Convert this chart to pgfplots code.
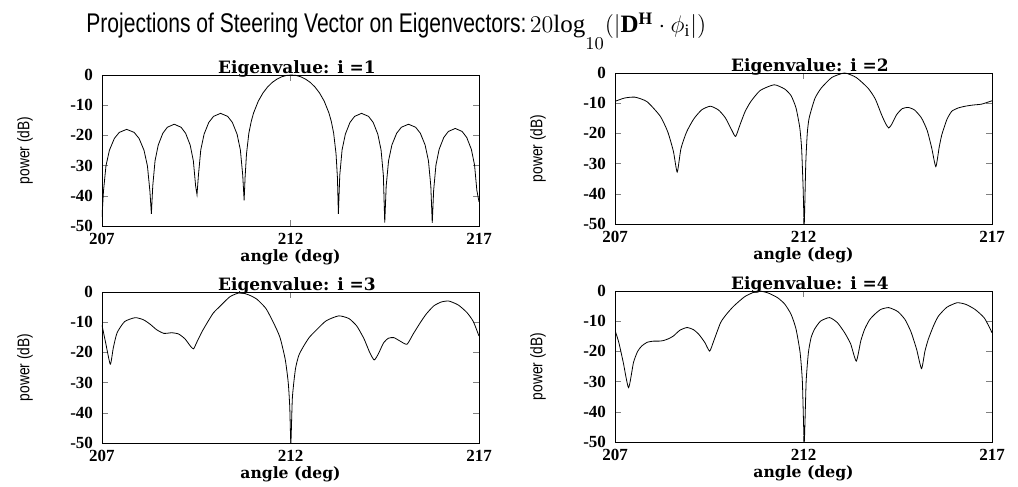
\documentclass[border=0pt]{standalone}
\usepackage{fontspec}
\setmainfont{Liberation Serif}
\newfontfamily\wideserif{DejaVu Serif}
\newfontfamily\sansfont{Liberation Sans}
\usepackage{graphicx}
\usepackage{pgfplots}
\pgfplotsset{compat=1.18}
\usepackage{pgfplotstable}

% eigenvector 1
\pgfplotstableread{
ang db
207.000 -47
207.039 -38.5
207.105 -30.1
207.197 -24.9
207.328 -21.0
207.459 -19.0
207.655 -18.0
207.852 -19.0
207.983 -21.0
208.114 -24.9
208.205 -30.1
208.271 -38.5
208.310 -46.0
208.346 -36.8
208.407 -28.4
208.492 -23.2
208.613 -19.3
208.734 -17.3
208.915 -16.3
209.097 -17.3
209.218 -19.3
209.339 -23.2
209.423 -28.4
209.484 -36.8
209.520 -39.6
209.558 -33.2
209.620 -24.8
209.708 -19.6
209.833 -15.7
209.958 -13.7
210.145 -12.7
210.333 -13.7
210.458 -15.7
210.583 -19.6
210.670 -24.8
210.733 -33.2
210.770 -41.5
210.795 -34.0
210.833 -26.1
210.895 -19.3
210.958 -15.4
211.020 -12.6
211.145 -8.68
211.270 -5.94
211.395 -3.92
211.520 -2.42
211.645 -1.33
211.770 -0.58
211.895 -0.14
212.020 0
212.145 -0.14
212.270 -0.58
212.395 -1.33
212.520 -2.42
212.645 -3.92
212.770 -5.94
212.895 -8.68
213.020 -12.6
213.083 -15.4
213.145 -19.3
213.208 -26.1
213.245 -34.0
213.270 -46.0
213.307 -33.2
213.368 -24.8
213.455 -19.6
213.578 -15.7
213.701 -13.7
213.885 -12.7
214.070 -13.7
214.193 -15.7
214.316 -19.6
214.402 -24.8
214.463 -33.2
214.500 -48.9
214.538 -36.8
214.601 -28.4
214.689 -23.2
214.815 -19.3
214.941 -17.3
215.130 -16.3
215.319 -17.3
215.445 -19.3
215.571 -23.2
215.659 -28.4
215.722 -36.8
215.760 -49.0
215.797 -38.2
215.858 -29.8
215.943 -24.6
216.065 -20.7
216.187 -18.7
216.370 -17.7
216.553 -18.7
216.675 -20.7
216.797 -24.6
216.882 -29.8
216.943 -38.2
217.000 -42
}\eigA

% eigenvector 2
\pgfplotstableread{
ang db
207.00 -9.4
207.25 -8.3
207.53 -8.0
207.85 -9.5
208.20 -14.3
208.40 -19.5
208.55 -26
208.65 -32.8
208.75 -25
208.90 -19.5
209.09 -15.2
209.30 -12.2
209.53 -11.0
209.75 -12.3
209.93 -14.9
210.10 -19
210.20 -21
210.32 -17
210.45 -12.8
210.60 -9.5
210.85 -5.8
211.22 -3.9
211.50 -5.3
211.67 -7.5
211.80 -11.5
211.90 -18
211.95 -25
211.99 -38
212.02 -50
212.06 -30
212.10 -20
212.15 -14.9
212.30 -8.5
212.47 -5.0
212.75 -1.5
213.09 0
213.40 -1.5
213.71 -5.0
213.90 -8.5
214.07 -13.8
214.18 -16.8
214.26 -18.2
214.34 -17.0
214.47 -13.8
214.62 -11.8
214.78 -11.4
214.95 -12.3
215.13 -14.9
215.28 -19
215.40 -24.8
215.51 -31
215.60 -24.5
215.67 -20.4
215.80 -15.5
215.93 -12.7
216.10 -11.6
216.29 -11.0
216.50 -10.6
216.73 -10.3
217.00 -9.2
}\eigB

% eigenvector 3
\pgfplotstableread{
ang db
207.00 -11
207.10 -17
207.22 -23.9
207.30 -18.5
207.40 -13.5
207.60 -9.8
207.88 -8.5
208.10 -9.2
208.28 -10.7
208.45 -12.5
208.64 -13.7
208.85 -13.5
209.03 -13.9
209.20 -15.5
209.35 -18.0
209.43 -18.8
209.52 -16.5
209.65 -13.2
209.79 -10.2
209.95 -7.0
210.14 -4.6
210.40 -1.5
210.67 -0.2
210.90 -1.0
211.11 -2.4
211.35 -5.5
211.55 -10.2
211.72 -15.0
211.86 -22.3
211.94 -30
211.98 -38
212.01 -50
212.05 -35
212.13 -25.6
212.22 -21
212.35 -17.9
212.50 -15.0
212.70 -12.4
212.95 -9.5
213.28 -7.9
213.55 -8.8
213.76 -11.3
213.95 -15.5
214.10 -20.0
214.22 -22.5
214.33 -20.5
214.47 -16.8
214.60 -15.3
214.74 -15.1
214.90 -16.2
215.09 -17.3
215.25 -14.0
215.44 -10.2
215.60 -7.3
215.80 -4.6
216.00 -3.3
216.20 -3.0
216.45 -4.3
216.68 -6.8
216.85 -9.8
217.00 -14.6
}\eigC

% eigenvector 4
\pgfplotstableread{
ang db
207.00 -13.0
207.10 -17
207.22 -23.7
207.36 -32.0
207.49 -23.7
207.60 -20.0
207.71 -18.2
207.85 -17.0
208.02 -16.6
208.17 -16.6
208.29 -16.4
208.42 -15.8
208.55 -14.9
208.72 -13.0
208.91 -12.1
209.08 -12.8
209.22 -14.3
209.38 -17.0
209.51 -19.9
209.62 -16.5
209.80 -10.5
209.95 -7.8
210.15 -5.0
210.45 -1.8
210.78 0
211.05 -0.6
211.31 -2.2
211.50 -4.3
211.67 -7.7
211.80 -12.5
211.91 -20.4
211.97 -30
212.02 -50
212.07 -30
212.13 -20.4
212.20 -15.5
212.29 -12.7
212.45 -10.0
212.69 -8.8
212.90 -10.5
213.09 -13.8
213.25 -17.5
213.40 -23.2
213.52 -16.5
213.62 -12.7
213.75 -9.6
213.89 -7.7
214.05 -6.1
214.26 -5.5
214.50 -6.8
214.69 -9.4
214.85 -13.5
215.00 -19.3
215.13 -25.7
215.22 -20.0
215.31 -16.0
215.45 -11.5
215.58 -8.3
215.80 -5.4
216.07 -3.9
216.30 -4.4
216.55 -6.1
216.80 -9.0
217.00 -13.8
}\eigD

\pgfplotsset{
  eigpanel/.style={
    width=188.5pt, height=75.5pt, scale only axis,
    anchor=south west,
    xmin=207, xmax=217, ymin=-50, ymax=0,
    xtick={207,212,217},
    ytick={-50,-40,-30,-20,-10,0},
    tick align=inside,
    major tick length=3pt,
    /pgf/number format/assume math mode=true,
    tick label style={font=\fontsize{8.5}{9}\selectfont\bfseries},
    yticklabel style={xshift=-1pt},
    xlabel={angle (deg)},
    xlabel style={font=\wideserif\fontsize{7.8}{9}\selectfont\bfseries,
      at={(axis description cs:0.5,-0.205)}, anchor=center},
    ylabel={\scalebox{0.82}[1]{power (dB)}},
    ylabel style={font=\sansfont\fontsize{8.4}{9}\selectfont,
      at={(axis description cs:-0.204,0.5)}, anchor=center},
    every axis title shift=0pt,
    title style={font=\wideserif\fontsize{8.5}{9}\selectfont\bfseries,
      at={(axis description cs:0.517,1)}, anchor=base, inner sep=0pt, yshift=0.5pt},
    cycle list={{black, mark=none, line width=1.1pt}},
  }
}

\begin{document}
\begin{tikzpicture}
\useasboundingbox (0,0) rectangle (509pt,243.5pt);

\node[anchor=base west, inner sep=0] at (43pt,227pt)
  {{\sansfont\fontsize{13.5}{16}\selectfont\scalebox{0.78}[1]{Projections of Steering Vector on Eigenvectors:}}\,%
   {\fontsize{12.5}{15}\selectfont$20\mathrm{log}_{\raisebox{-5pt}{$\scriptstyle 10$}}\big(\big|\mathbf{D}^{\mathbf{H}}\cdot\phi_{\mathrm{i}}\big|\big)$}};

\begin{axis}[eigpanel, at={(51pt,130.5pt)}, title={Eigenvalue: i =1}]
\addplot table[x=ang, y=db] {\eigA};
\end{axis}

\begin{axis}[eigpanel, at={(307.5pt,131.5pt)}, title={Eigenvalue: i =2}]
\addplot+[smooth, tension=0.35] table[x=ang, y=db] {\eigB};
\end{axis}

\begin{axis}[eigpanel, at={(51pt,22pt)}, title={Eigenvalue: i =3}]
\addplot+[smooth, tension=0.35] table[x=ang, y=db] {\eigC};
\end{axis}

\begin{axis}[eigpanel, at={(307.5pt,22.5pt)}, title={Eigenvalue: i =4}]
\addplot+[smooth, tension=0.35] table[x=ang, y=db] {\eigD};
\end{axis}
\end{tikzpicture}
\end{document}
